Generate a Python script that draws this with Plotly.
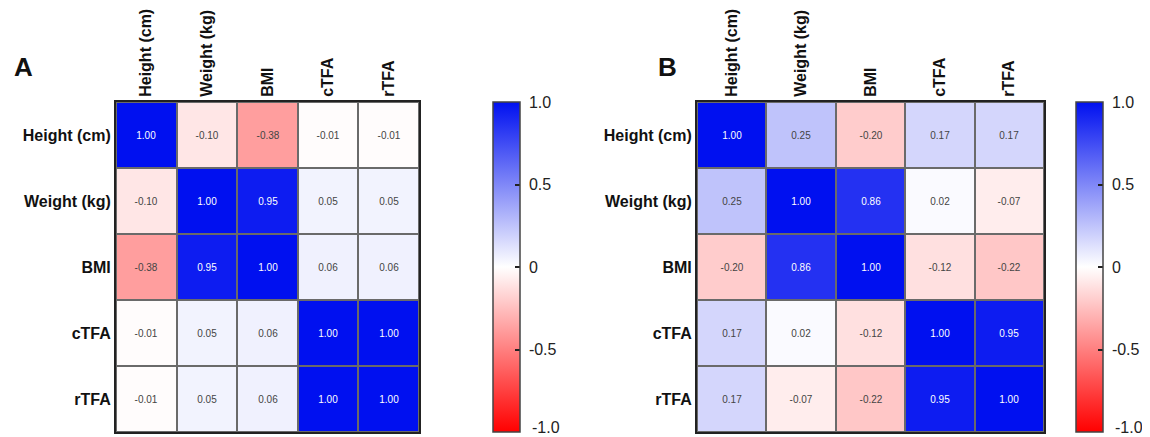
import plotly.graph_objects as go

labels = ["Height (cm)", "Weight (kg)", "BMI", "cTFA", "rTFA"]

corr_a = [
    [1.00, -0.10, -0.38, -0.01, -0.01],
    [-0.10, 1.00, 0.95, 0.05, 0.05],
    [-0.38, 0.95, 1.00, 0.06, 0.06],
    [-0.01, 0.05, 0.06, 1.00, 1.00],
    [-0.01, 0.05, 0.06, 1.00, 1.00],
]
corr_b = [
    [1.00, 0.25, -0.20, 0.17, 0.17],
    [0.25, 1.00, 0.86, 0.02, -0.07],
    [-0.20, 0.86, 1.00, -0.12, -0.22],
    [0.17, 0.02, -0.12, 1.00, 0.95],
    [0.17, -0.07, -0.22, 0.95, 1.00],
]
cbar_vals = [1.0, 0.5, 0, -0.5]
cbar_text = ["1.0", "0.5", "0", "-0.5"]
cbar_min_label = "-1.0"
panel_letters = ["A", "B"]

OFF = 8  # page body margin
W, H = 1150 - OFF, 437 - OFF
cscale = [[0, "#ff0000"], [0.5, "#ffffff"], [1, "#0010f0"]]
FONT = "Liberation Sans, Arial, sans-serif"
bold_labels = ["<b>%s</b>" % l for l in labels]

def px(x):
    return (x - OFF) / W

def py(y):
    return 1 - (y - OFF) / H

fig = go.Figure()

panels = [
    (corr_a, "x", "y", (116, 419), (493, 522)),
    (corr_b, "x2", "y2", (697, 1044), (1076, 1105)),
]
top, bot = 102, 432
for z, xa, ya, (x0, x1), (c0, c1) in panels:
    fig.add_trace(go.Heatmap(
        z=z, x=labels, y=labels, xaxis=xa, yaxis=ya,
        zmin=-1, zmax=1, colorscale=cscale,
        xgap=2, ygap=2,
        texttemplate="%{z:.2f}",
        textfont=dict(size=10, family=FONT),
        hoverinfo="skip",
        colorbar=dict(
            x=px(c0), xanchor="left", xref="paper", xpad=0, ypad=0,
            y=py((top + bot) / 2), yanchor="middle",
            len=(bot - top) / H, lenmode="fraction",
            thickness=c1 - c0 - 2, thicknessmode="pixels",
            outlinewidth=1.5, outlinecolor="#444",
            tickvals=cbar_vals, ticktext=["&nbsp;" + t for t in cbar_text],
            ticks="inside", ticklen=5, tickwidth=2, tickcolor="#222",
            ticklabelposition="outside",
            tickfont=dict(size=16, family=FONT, color="#222"),
        ),
    ))
    # label of the lowest colorbar value (at the very bottom edge)
    fig.add_annotation(text=cbar_min_label, x=px(c1 + 8), y=py(427), xref="paper", yref="paper",
                       xanchor="left", yanchor="middle", showarrow=False,
                       font=dict(size=16, family=FONT, color="#222"))

axis_common = dict(
    showline=True, linecolor="#222", linewidth=2, mirror=True,
    showgrid=False, zeroline=False, ticks="",
)
xfont = dict(size=16, family=FONT, color="#111")
yfont = dict(size=16, family=FONT, color="#111")
fig.update_layout(
    width=W, height=H,
    margin=dict(l=0, r=0, t=0, b=0),
    paper_bgcolor="white", plot_bgcolor="#6a6a6a",
    font=dict(family=FONT, color="#111"),
    xaxis=dict(domain=[px(116), px(419)], anchor="y", side="top", tickangle=-90,
               tickvals=labels, ticktext=bold_labels, tickfont=xfont, **axis_common),
    yaxis=dict(domain=[py(bot), py(top)], anchor="x", autorange="reversed",
               tickvals=labels, ticktext=bold_labels, tickfont=yfont, **axis_common),
    xaxis2=dict(domain=[px(697), px(1044)], anchor="y2", side="top", tickangle=-90,
                tickvals=labels, ticktext=bold_labels, tickfont=xfont, **axis_common),
    yaxis2=dict(domain=[py(bot), py(top)], anchor="x2", autorange="reversed",
                tickvals=labels, ticktext=bold_labels, tickfont=yfont, **axis_common),
)
for letter, xx in zip(panel_letters, [23, 667]):
    fig.add_annotation(text="<b>%s</b>" % letter, x=px(xx), y=py(67), xref="paper", yref="paper",
                       xanchor="center", yanchor="middle", showarrow=False,
                       font=dict(size=26, family=FONT, color="#111"))

fig.write_html("out.html")
